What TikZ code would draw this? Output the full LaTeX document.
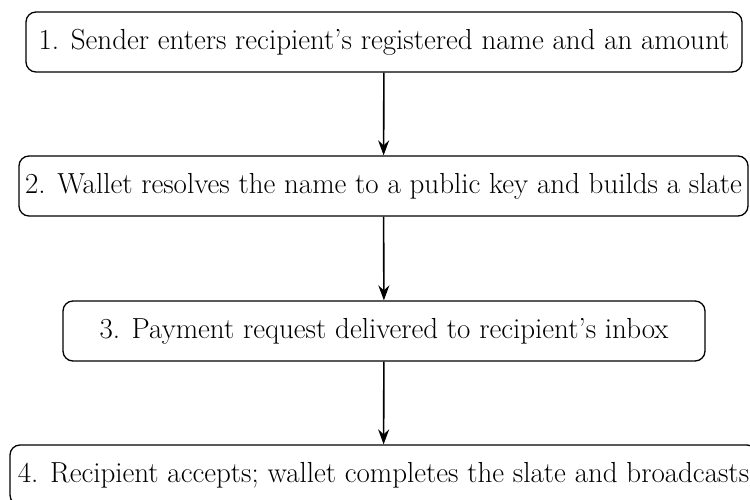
\documentclass[tikz,border=0pt]{standalone}
\usetikzlibrary{arrows.meta}
\begin{document}
\begin{tikzpicture}[x=1pt,y=-1pt,
  stepbox/.style={draw, line width=1.3pt, rounded corners=10pt, minimum height=60pt, inner sep=0pt,
    font=\fontsize{29}{33}\selectfont},
  flow/.style={line width=1.6pt, -{Stealth[length=15pt,width=11pt,inset=5pt]}}]
\useasboundingbox (0,0) rectangle (750,500);
\node[stepbox, minimum width=716pt] (s1) at (384,42) {1. Sender enters recipient's registered name and an amount};
\node[stepbox, minimum width=729pt] (s2) at (383.5,186) {2. Wallet resolves the name to a public key and builds a slate};
\node[stepbox, minimum width=642pt] (s3) at (384,331) {3. Payment request delivered to recipient's inbox};
\node[stepbox, minimum width=747pt] (s4) at (383.5,475) {4. Recipient accepts; wallet completes the slate and broadcasts};
\draw[flow] (s1) -- (s2);
\draw[flow] (s2) -- (s3);
\draw[flow] (s3) -- (s4);
\end{tikzpicture}
\end{document}
